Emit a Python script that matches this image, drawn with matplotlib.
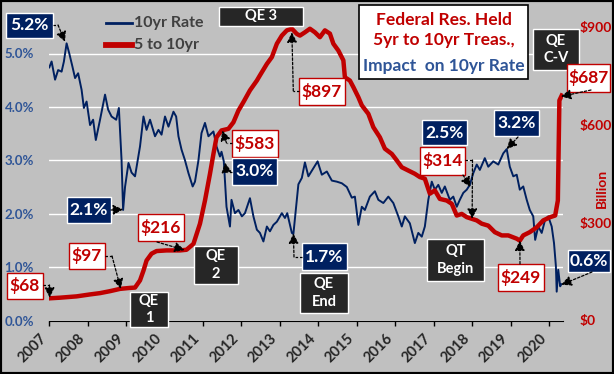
import matplotlib
matplotlib.use("Agg")
import matplotlib.pyplot as plt
from matplotlib.patches import Rectangle, FancyArrowPatch
from matplotlib.lines import Line2D

# values
series_names = ["10yr Rate", "5 to 10yr"]

rate_years = [2007.00, 2007.06, 2007.15, 2007.23, 2007.32, 2007.38, 2007.45, 2007.52, 2007.60, 2007.67,
              2007.75, 2007.84, 2007.90, 2007.97, 2008.06, 2008.14, 2008.21, 2008.32, 2008.45, 2008.53,
              2008.62, 2008.74, 2008.81, 2008.88, 2008.92, 2008.97, 2009.06, 2009.14, 2009.23, 2009.36,
              2009.45, 2009.53, 2009.62, 2009.75, 2009.84, 2009.92, 2010.01, 2010.10, 2010.23, 2010.30,
              2010.36, 2010.44, 2010.53, 2010.62, 2010.73, 2010.79, 2010.88, 2010.96, 2011.05, 2011.14,
              2011.27, 2011.35, 2011.44, 2011.48, 2011.54, 2011.57, 2011.61, 2011.70, 2011.74, 2011.83,
              2011.92, 2012.01, 2012.09, 2012.22, 2012.31, 2012.40, 2012.48, 2012.57, 2012.66, 2012.74,
              2012.83, 2012.92, 2013.05, 2013.13, 2013.19, 2013.31, 2013.35, 2013.42, 2013.48, 2013.57,
              2013.65, 2013.74, 2013.87, 2013.98, 2014.09, 2014.22, 2014.35, 2014.48, 2014.61, 2014.74,
              2014.87, 2014.95, 2015.04, 2015.13, 2015.21, 2015.34, 2015.47, 2015.56, 2015.69, 2015.82,
              2015.95, 2016.08, 2016.17, 2016.25, 2016.38, 2016.51, 2016.60, 2016.69, 2016.77, 2016.86,
              2016.95, 2017.03, 2017.12, 2017.21, 2017.29, 2017.42, 2017.51, 2017.60, 2017.68, 2017.77,
              2017.86, 2017.94, 2018.03, 2018.12, 2018.20, 2018.33, 2018.42, 2018.55, 2018.68, 2018.81,
              2018.90, 2018.98, 2019.07, 2019.16, 2019.24, 2019.33, 2019.42, 2019.50, 2019.59, 2019.64,
              2019.72, 2019.81, 2019.90, 2019.98, 2020.07, 2020.13, 2020.18, 2020.20, 2020.24, 2020.29,
              2020.32]
rate_vals = [4.74, 4.85, 4.51, 4.69, 4.66, 4.85, 5.19, 5.00, 4.76, 4.54,
             4.63, 4.32, 3.98, 4.10, 3.66, 3.76, 3.38, 3.76, 4.23, 3.95,
             3.82, 3.76, 3.98, 3.00, 2.07, 2.50, 2.95, 2.77, 2.70, 3.26,
             3.82, 3.57, 3.76, 3.45, 3.57, 3.48, 3.82, 3.63, 3.91, 3.82,
             3.45, 3.20, 3.00, 2.76, 2.51, 2.60, 3.00, 3.51, 3.70, 3.45,
             3.54, 3.26, 3.07, 3.16, 2.98, 2.63, 2.13, 1.76, 2.26, 2.01,
             2.07, 1.95, 2.01, 2.29, 1.95, 1.70, 1.64, 1.48, 1.76, 1.67,
             1.79, 1.85, 2.01, 1.92, 2.01, 1.64, 1.62, 2.13, 2.55, 2.67,
             2.96, 2.70, 2.85, 2.98, 2.73, 2.79, 2.62, 2.60, 2.57, 2.50,
             2.30, 2.32, 1.79, 2.13, 2.07, 2.32, 2.42, 2.26, 2.20, 2.32,
             2.20, 1.95, 1.76, 1.95, 1.82, 1.45, 1.64, 1.57, 1.76, 2.26,
             2.60, 2.45, 2.54, 2.39, 2.51, 2.26, 2.32, 2.13, 2.26, 2.39,
             2.45, 2.54, 2.76, 2.92, 2.82, 3.04, 2.88, 2.98, 2.92, 3.13,
             3.21, 2.88, 2.70, 2.73, 2.45, 2.51, 2.26, 2.07, 1.95, 1.51,
             1.76, 1.64, 1.89, 1.95, 1.76, 1.45, 1.01, 0.54, 0.95, 0.64,
             0.68]

held_years = [2007.00, 2007.28, 2007.71, 2008.06, 2008.32, 2008.58, 2008.84, 2009.10, 2009.23, 2009.36,
              2009.45, 2009.53, 2009.66, 2009.79, 2010.05, 2010.40, 2010.57, 2010.75, 2010.92, 2011.05,
              2011.18, 2011.27, 2011.35, 2011.48, 2011.66, 2011.79, 2011.92, 2012.05, 2012.22, 2012.40,
              2012.48, 2012.66, 2012.79, 2012.92, 2013.05, 2013.18, 2013.31, 2013.44, 2013.52, 2013.65,
              2013.78, 2013.91, 2014.04, 2014.17, 2014.30, 2014.39, 2014.52, 2014.65, 2014.69, 2014.82,
              2014.91, 2015.04, 2015.13, 2015.30, 2015.43, 2015.60, 2015.73, 2015.91, 2016.04, 2016.17,
              2016.34, 2016.51, 2016.64, 2016.77, 2016.90, 2017.03, 2017.16, 2017.34, 2017.47, 2017.60,
              2017.73, 2017.86, 2017.99, 2018.12, 2018.25, 2018.42, 2018.59, 2018.77, 2018.94, 2019.16,
              2019.24, 2019.33, 2019.50, 2019.68, 2019.85, 2020.03, 2020.16, 2020.23, 2020.27, 2020.33]
held_vals = [68, 70, 74, 80, 84, 90, 97, 100, 101, 123,
             153, 184, 205, 213, 215, 215, 217, 235, 297, 368,
             450, 511, 562, 583, 588, 608, 644, 670, 706, 736,
             752, 787, 808, 849, 874, 890, 895, 879, 874, 884,
             895, 884, 869, 890, 880, 849, 828, 798, 746, 736,
             716, 685, 660, 634, 593, 562, 527, 511, 491, 470,
             460, 450, 440, 435, 389, 399, 373, 368, 358, 322,
             327, 317, 312, 307, 297, 291, 271, 261, 261, 251,
             245, 261, 271, 286, 307, 317, 322, 368, 675, 690]

year_ticks = list(range(2007, 2021))
rate_ticks = [0, 1, 2, 3, 4, 5]
held_ticks = [0, 300, 600, 900]

W, H = 614, 374
NAVY = "#002060"
RED = "#C00000"
BLUE_TXT = "#2F5597"
DARK = "#262626"
BG = "#C0C0C0"

plt.rcParams["font.family"] = ["Lato", "DejaVu Sans"]
plt.rcParams["font.weight"] = "bold"

fig = plt.figure(figsize=(W / 100, H / 100), dpi=100, facecolor=BG)
ax = fig.add_axes([49.3 / W, 1 - 320.5 / H, (563 - 49.3) / W, (320.5 - 3) / H])
ax.patch.set_visible(False)
ax2 = ax.twinx()

ax.plot(rate_years, rate_vals, color=NAVY, lw=1.4, label=series_names[0])
ax2.plot(held_years, held_vals, color=RED, lw=3.2, label=series_names[1], solid_joinstyle="round")

ax.set_xlim(2007, 2020.364)
ax.set_ylim(0, 317.5 / 53.4)
ax2.set_ylim(0, 317.5 / 0.326)

for s in ax.spines.values():
    s.set_visible(False)
for s in ax2.spines.values():
    s.set_visible(False)
ax.spines["bottom"].set_visible(True)
ax.spines["bottom"].set_color("black")

ax.set_xticks(year_ticks)
ax.set_xticklabels([str(y) for y in year_ticks], rotation=45, ha="right",
                   fontsize=10.5, color=DARK, fontweight="bold")
ax.tick_params(axis="x", length=3.6, width=1, color="black", pad=4)

ax.set_yticks(rate_ticks)
ax.set_yticklabels(["%.1f%%" % v for v in rate_ticks], fontsize=9.5, color=BLUE_TXT, fontweight="bold")
ax.tick_params(axis="y", length=0, pad=11)
ax.yaxis.grid(True, color="white", lw=1)
ax.set_axisbelow(True)

ax2.set_yticks(held_ticks)
ax2.set_yticklabels(["$%d" % v for v in held_ticks], fontsize=10, color=RED, fontweight="bold")
ax2.tick_params(axis="y", length=0, pad=12)

fig.text(601.7 / W, 1 - 188 / H, "Billion", rotation=90, ha="center", va="center",
         color=RED, fontsize=10, fontweight="bold")

# legend drawn by hand
for (yy, c, lw, name) in [(22.7, NAVY, 2, series_names[0]), (45, RED, 4.2, series_names[1])]:
    fig.add_artist(Line2D([106 / W, 132 / W], [1 - yy / H, 1 - yy / H], color=c, lw=lw,
                          transform=fig.transFigure))
    fig.text(134 / W, 1 - yy / H, name, ha="left", va="center", color="#404040", fontsize=11.5)

# title box
fig.add_artist(Rectangle((359 / W, 1 - 79 / H), 169 / W, 74 / H, transform=fig.transFigure,
                         facecolor="white", edgecolor="black", lw=1.2, zorder=5))
for txt, yb, c in [("Federal Res. Held", 25, RED), ("5yr to 10yr Treas.,", 45, RED),
                   ("Impact  on 10yr Rate", 71.5, BLUE_TXT)]:
    fig.text(443.5 / W, 1 - yb / H, txt, ha="center", va="baseline", color=c, fontsize=12.5, zorder=6)


def box(x0, y0, x1, y1, text, kind):
    if kind == "navy":
        fc, ec, tc, fs = NAVY, "white", "white", 12.5
    elif kind == "dark":
        fc, ec, tc, fs = DARK, "white", "white", 10.5
    else:
        fc, ec, tc, fs = "white", RED, RED, 12.5
    fig.add_artist(Rectangle((x0 / W, 1 - y1 / H), (x1 - x0) / W, (y1 - y0) / H,
                             transform=fig.transFigure, facecolor=fc, edgecolor=ec, lw=1, zorder=5))
    fig.text((x0 + x1) / 2 / W, 1 - (y0 + y1) / 2 / H, text, ha="center", va="center",
             color=tc, fontsize=fs, linespacing=1.35, zorder=6)


def pointer(pts, tip, axis):
    # pts: figure pixels from the top-left, tip: data coords on axis
    inv = fig.transFigure.inverted()
    tx, ty = inv.transform(axis.transData.transform(tip))
    xy = [(x / W, 1 - y / H) for x, y in pts]
    if len(xy) > 1:
        fig.add_artist(Line2D([p[0] for p in xy], [p[1] for p in xy], color="black", lw=0.9,
                              ls=(0, (2, 1.5)), transform=fig.transFigure, zorder=7))
    fig.add_artist(FancyArrowPatch(xy[-1], (tx, ty), transform=fig.transFigure,
                                   arrowstyle="-|>,head_length=0.6,head_width=0.3", mutation_scale=10,
                                   color="black", lw=0.9, ls=(0, (2, 1.5)),
                                   shrinkA=0, shrinkB=0, zorder=7))


box(6, 13, 53, 38, "5.2%", "navy")
pointer([(53, 25), (58, 25)], (2007.41, 5.22), ax)
box(67, 197, 111, 223, "2.1%", "navy")
pointer([(111, 210)], (2008.92, 2.08), ax)
box(7, 273, 43, 299, "$68", "white")
pointer([(43, 285), (49.5, 285)], (2007.01, 70), ax2)
box(69, 243, 105, 269, "$97", "white")
pointer([(105, 256), (112, 256)], (2008.86, 97), ax2)
box(138, 214, 184, 241, "$216", "white")
pointer([(157, 242)], (2010.52, 216), ax2)
box(130, 292, 168, 327, "QE\n1", "dark")
box(194, 246, 238, 284, "QE\n2", "dark")
box(232, 130, 278, 157, "$583", "white")
pointer([(232, 143), (226.5, 143)], (2011.5, 583), ax2)
box(232, 158, 277, 185, "3.0%", "navy")
pointer([(232, 172), (226.5, 172)], (2011.57, 2.96), ax)
box(219, 7, 303, 26, "QE 3", "dark")
box(299, 78, 345, 105, "$897", "white")
pointer([(299, 91), (293.3, 91)], (2013.31, 884), ax2)
box(302, 243, 347, 270, "1.7%", "navy")
pointer([(302, 257), (294, 257)], (2013.35, 1.63), ax)
box(300, 273, 348, 313, "QE\nEnd", "dark")
box(422, 120, 467, 145, "2.5%", "navy")
box(420, 147, 465, 175, "$314", "white")
pointer([(463, 175)], (2017.96, 2.5), ax)
pointer([(465, 160), (472.5, 160)], (2018.0, 312), ax2)
box(427, 239, 484, 281, "QT\nBegin", "dark")
box(494, 110, 539, 136, "3.2%", "navy")
pointer([(518, 137)], (2018.9, 3.21), ax)
box(498, 264, 544, 291, "$249", "white")
pointer([(520, 264)], (2019.24, 245), ax2)
box(533, 29, 579, 70, "QE\nC-V", "dark")
box(567, 64, 610, 92, "$687", "white")
pointer([(591, 90)], (2020.31, 687), ax2)
box(568, 250, 610, 272, "0.6%", "navy")
pointer([(592, 272)], (2020.32, 0.67), ax)

fig.add_artist(Rectangle((0, 0), 1, 1, transform=fig.transFigure, fill=False,
                         edgecolor="black", lw=3, zorder=10))

fig.savefig("out.png", dpi=100, facecolor=BG)
